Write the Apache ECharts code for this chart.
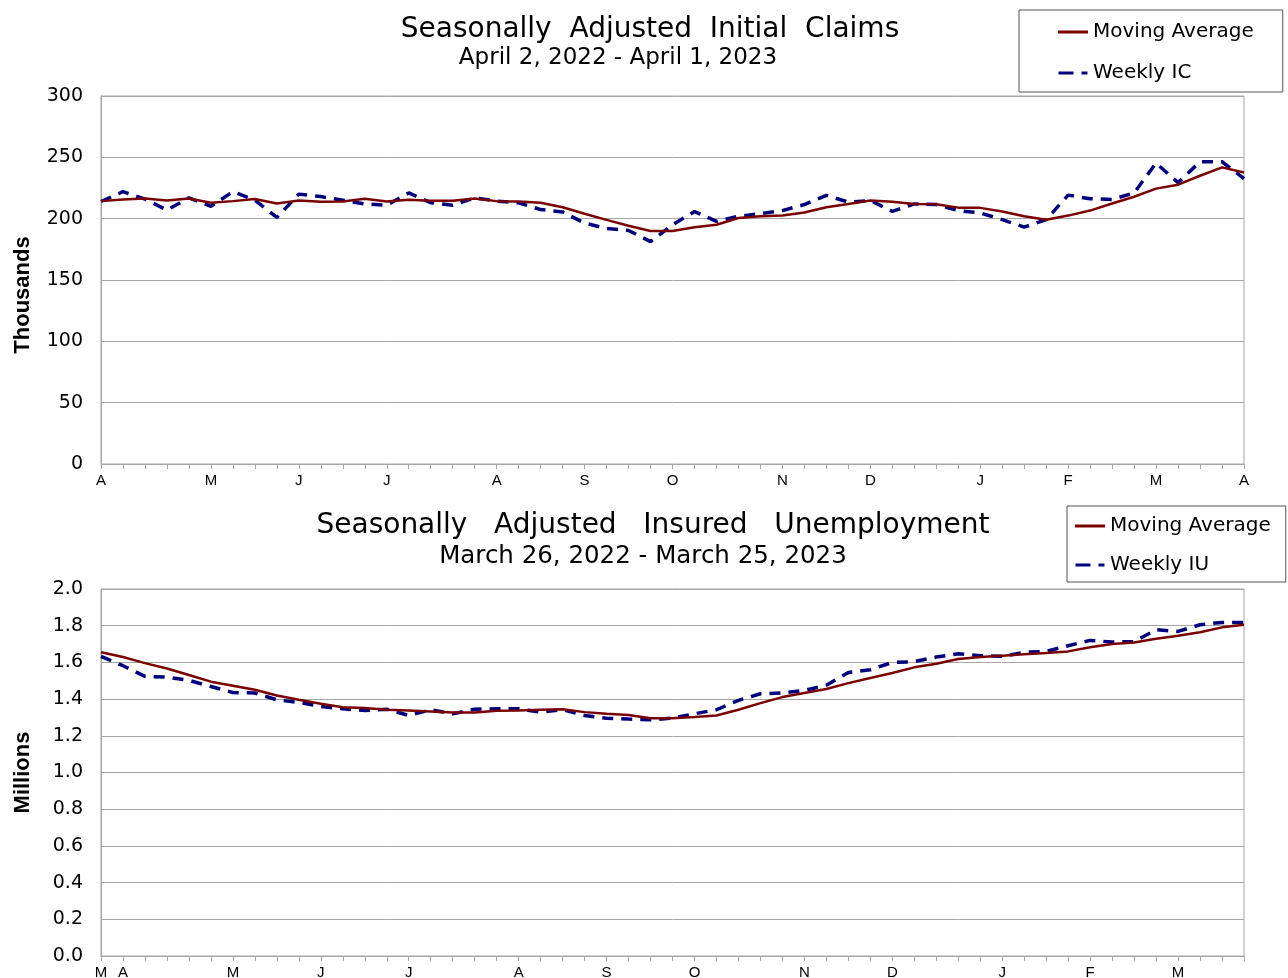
<!DOCTYPE html>
<html><head><meta charset="utf-8">
<script src="https://cdn.jsdelivr.net/npm/echarts@6/dist/echarts.min.js"></script>
<style>html,body{margin:0;padding:0;background:#fff}#c{width:1288px;height:978px}</style>
</head><body><div id="c"></div>
<script>
// Top chart: Initial Claims (thousands), weeks Apr 2, 2022 - Apr 1, 2023
const icLabels = ['A','','','','','M','','','','J','','','','J','','','','','A','','','','S','','','','O','','','','','N','','','','D','','','','','J','','','','F','','','','M','','','','A'];
const icWeekly = [214,222,216,207,217,210,222,215,201,220,218,215,212,211,221,213,211,217,214.3,212.9,207.4,205.5,196.4,192,190.4,181.3,195,205.8,197.8,201.9,204.1,206.6,211.5,219,213.5,214.8,206,212,211.5,206.6,204.7,199.2,193.1,199.2,219.2,216.2,215.7,221,245.3,229.4,246.4,246.4,232.7];
const icMA = [214.3,215.7,216.5,214.8,216.5,213,214.3,216,212.4,214.8,213.7,214,216.2,214,215.4,214.6,214.6,216.5,214.3,214,213,209.3,204,199,194.2,190,190,193,195,200.5,202,202.5,205,209.3,212,214.8,213.7,212,211.8,209,208.8,205.8,202,199.2,202.5,206.6,212.4,217.9,224.5,227.7,235,241.8,237.6];
// Bottom chart: Insured Unemployment (millions), weeks Mar 26, 2022 - Mar 25, 2023
const iuLabels = ['M','A','','','','','M','','','','J','','','','J','','','','','A','','','','S','','','','O','','','','','N','','','','D','','','','','J','','','','F','','','','M','','',''];
const iuWeekly = [1.633,1.582,1.524,1.52,1.502,1.469,1.436,1.433,1.396,1.382,1.36,1.347,1.338,1.345,1.311,1.342,1.32,1.345,1.347,1.347,1.329,1.342,1.311,1.296,1.291,1.287,1.296,1.32,1.342,1.393,1.429,1.433,1.447,1.476,1.545,1.56,1.6,1.604,1.629,1.647,1.636,1.633,1.655,1.66,1.691,1.72,1.711,1.713,1.778,1.769,1.805,1.818,1.818];
const iuMA = [1.655,1.629,1.596,1.567,1.531,1.495,1.473,1.451,1.42,1.396,1.375,1.356,1.351,1.342,1.338,1.333,1.327,1.327,1.336,1.338,1.342,1.345,1.329,1.32,1.313,1.296,1.295,1.302,1.311,1.342,1.378,1.411,1.433,1.455,1.487,1.515,1.542,1.573,1.593,1.618,1.629,1.636,1.645,1.651,1.66,1.682,1.7,1.709,1.729,1.745,1.764,1.791,1.805];

const FONT = '"DejaVu Sans", "Liberation Sans", Arial, sans-serif';
const NAME_FONT = '"Liberation Sans", Arial, sans-serif';
const NARROW = '"Liberation Sans Narrow", "Liberation Sans", Arial, sans-serif';
const MA_COLOR = '#7a0000';
const WK_COLOR = '#00007f';
const GRID_COLOR = '#a6a6a6';
const MA_ICON = 'path://M0,0H30V3H0Z';
const WK_ICON = 'path://M0,0H15V3H0ZM23,0H29V3H23Z';

function xAxisCfg(gridIndex, labels) {
  return {
    type: 'category', gridIndex, data: labels, boundaryGap: false,
    axisLine: { lineStyle: { color: GRID_COLOR, width: 1 } },
    axisTick: { show: true, interval: 0, length: 5, lineStyle: { color: GRID_COLOR } },
    axisLabel: { interval: 0, color: '#000', fontFamily: NARROW, fontSize: 15, margin: 9 },
    splitLine: { show: false }
  };
}
function yAxisCfg(gridIndex, max, interval, name, fmt, namePad) {
  return {
    type: 'value', gridIndex, min: 0, max, interval,
    name, nameLocation: 'middle', nameGap: 67, nameRotate: 90,
    nameTextStyle: { fontFamily: NAME_FONT, fontSize: 22, fontWeight: 'bold', color: '#000', padding: namePad },
    axisLine: { show: true, lineStyle: { color: GRID_COLOR } },
    axisTick: { show: false },
    axisLabel: { color: '#000', fontFamily: FONT, fontSize: 19, margin: 18, formatter: fmt },
    splitLine: { lineStyle: { color: GRID_COLOR, width: 1 } }
  };
}
function lineSeries(name, data, xi, dashed) {
  return {
    name, type: 'line', data, xAxisIndex: xi, yAxisIndex: xi,
    symbol: 'none', smooth: false, animation: false,
    lineStyle: dashed ? { color: WK_COLOR, width: 3.5, type: [11, 8] } : { color: MA_COLOR, width: 2.5 },
    itemStyle: { color: dashed ? WK_COLOR : MA_COLOR }
  };
}
function titleCfg(text, x, y, size) {
  return { text, left: x, top: y, textAlign: 'center',
    textStyle: { fontFamily: FONT, fontSize: size, fontWeight: 'normal', color: '#000' } };
}
function legendCfg(names, x, y, padding, gap) {
  return {
    data: [{ name: names[0], icon: MA_ICON }, { name: names[1], icon: WK_ICON }],
    orient: 'vertical', left: x, top: y, padding, itemGap: gap, itemWidth: 30, itemHeight: 3,
    borderColor: '#555', borderWidth: 1, selectedMode: false,
    itemStyle: { borderWidth: 0 }, lineStyle: { width: 0 },
    textStyle: { fontFamily: FONT, fontSize: 20, color: '#000' }
  };
}

const chart = echarts.init(document.getElementById('c'), null, { renderer: 'canvas' });
chart.setOption({
  backgroundColor: '#fff',
  animation: false,
  title: [
    titleCfg('Seasonally  Adjusted  Initial  Claims', 645, 11, 28),
    titleCfg('April 2, 2022 - April 1, 2023', 613, 42, 23),
    titleCfg('Seasonally   Adjusted   Insured   Unemployment', 648, 507, 28),
    titleCfg('March 26, 2022 - March 25, 2023', 638, 539, 24.5)
  ],
  legend: [
    legendCfg(['Moving Average', 'Weekly IC'], 1019, 10, [12, 29, 9, 39], 21),
    legendCfg(['Moving Average', 'Weekly IU'], 1067, 506, [10, 15, 7, 8], 19)
  ],
  grid: [
    { left: 101, right: 44, top: 96, height: 368, outerBoundsMode: 'none', containLabel: false, show: true, borderColor: GRID_COLOR, borderWidth: 1, backgroundColor: 'transparent' },
    { left: 101, right: 44, top: 589, height: 367, outerBoundsMode: 'none', containLabel: false, show: true, borderColor: GRID_COLOR, borderWidth: 1, backgroundColor: 'transparent' }
  ],
  xAxis: [xAxisCfg(0, icLabels), xAxisCfg(1, iuLabels)],
  yAxis: [
    yAxisCfg(0, 300, 50, 'Thousands', v => String(v), [0, 30, 0, 0]),
    yAxisCfg(1, 2, 0.2, 'Millions', v => v.toFixed(1), [0, 0, 0, 0])
  ],
  series: [
    lineSeries('Weekly IC', icWeekly, 0, true),
    lineSeries('Moving Average', icMA, 0, false),
    lineSeries('Weekly IU', iuWeekly, 1, true),
    lineSeries('Moving Average', iuMA, 1, false)
  ]
});
</script>
</body></html>
